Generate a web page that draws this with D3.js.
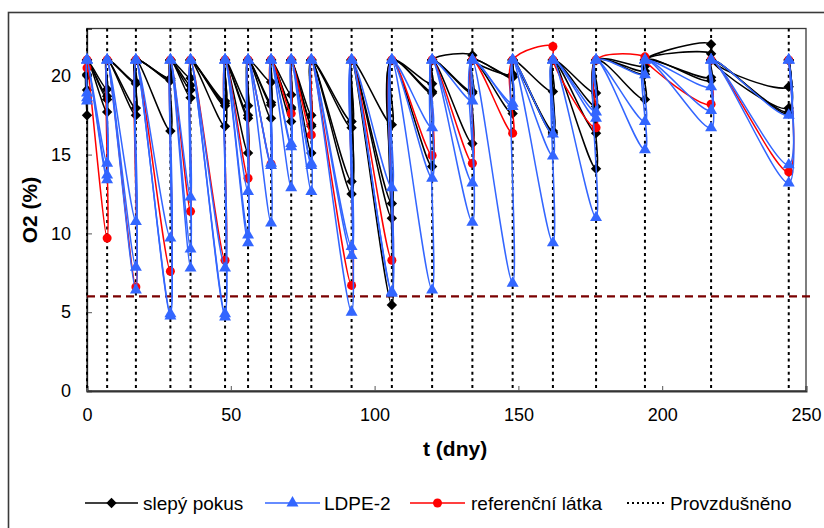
<!DOCTYPE html>
<html><head><meta charset="utf-8">
<script src="https://cdn.jsdelivr.net/npm/d3@7"></script>
<style>body{margin:0;background:#fff} svg{display:block} text{font-family:"Liberation Sans",Arial,sans-serif;fill:#000}</style>
</head><body><svg id="c" width="824" height="528"></svg>
<script>
// aeration times (days) - "Provzdušněno"
const aerationDays = [0, 7, 17, 29, 36, 48, 56, 64, 71, 78, 92, 106, 120, 134, 148, 162, 177, 194, 217, 244];
// O2 right after aeration (%)
const airO2 = 21.0;
// O2 (%) measured just before each aeration
const blank1 = [20.1, 19.15, 19.6, 19.85, 19.85, 18.4, 18.1, 19.6, 18.8, 17.5, 17.1, 16.9, 19.5, 21.3, 20.1, 19.0, 18.9, 20.6, 22.0, 19.3];
const blank2 = [20.0, 18.7, 19.5, 19.8, 19.4, 18.25, 17.5, 18.3, 18.0, 16.9, 16.7, 11.9, 19.0, 19.0, 19.95, 16.5, 18.05, 20.3, 21.4, 17.95];
const blank3 = [19.1, 18.5, 17.95, 19.7, 19.1, 18.1, 17.3, 18.15, 17.9, 16.8, 13.3, 10.96, 18.9, 18.9, 19.9, 16.4, 16.36, 20.1, 19.9, 17.7];
const blank4 = [17.5, 17.7, 17.5, 16.5, 18.6, 16.8, 15.1, 17.3, 17.1, 15.1, 12.5, 5.46, 14.24, 15.7, 17.6, 16.3, 14.1, 18.5, 19.7, 17.6];
const ldpe1 = [18.9, 14.45, 10.75, 9.7, 12.3, 7.8, 12.65, 14.45, 15.7, 14.45, 9.16, 12.9, 16.7, 18.4, 18.25, 16.3, 17.7, 20.06, 19.3, 17.5];
const ldpe2 = [18.6, 13.7, 7.85, 4.9, 9.0, 4.9, 9.9, 14.3, 15.5, 14.3, 8.6, 6.3, 13.5, 13.2, 18.05, 14.9, 17.3, 17.1, 17.8, 14.35];
const ldpe3 = [18.4, 13.4, 6.4, 4.75, 7.8, 4.7, 9.4, 10.65, 12.9, 12.65, 5.0, 6.2, 6.4, 10.7, 6.84, 9.4, 11.0, 15.3, 16.7, 13.2];
const reference = [20.5, 9.7, 6.6, 7.6, 11.4, 8.3, 13.5, 14.4, 17.6, 16.25, 6.7, 8.3, 14.94, 14.45, 16.36, 21.86, 16.7, 21.2, 18.2, 13.9];
const limitO2 = 6;
const xTicks = [0, 50, 100, 150, 200, 250];
const yTicks = [0, 5, 10, 15, 20];
const legendLabels = ["slepý pokus", "LDPE-2", "referenční látka", "Provzdušněno"];

const svg = d3.select("#c");
const x = d3.scaleLinear().domain([0, 250]).range([87, 806]);
const y = d3.scaleLinear().domain([0, 23]).range([391, 28.5]);

// outer chart frame
svg.append("rect").attr("x", 8.5).attr("y", 12.5).attr("width", 900).attr("height", 600)
  .attr("fill", "none").attr("stroke", "#3a3a3a").attr("stroke-width", 1.6);

// plot area frame
svg.append("rect").attr("x", x(0)).attr("y", y(23)).attr("width", x(250) - x(0)).attr("height", y(0) - y(23))
  .attr("fill", "none").attr("stroke", "#3a3a3a").attr("stroke-width", 1.3);

// axes
const yAxis = d3.axisLeft(y).tickValues(yTicks).tickSize(-5).tickPadding(16);
const gy = svg.append("g").attr("transform", `translate(${x(0)},0)`).call(yAxis);
gy.select(".domain").attr("stroke", "#222").attr("stroke-width", 1.3);
gy.selectAll(".tick line").attr("stroke", "#555");
gy.selectAll("text").style("font-size", "18px").attr("fill", "#000");

const xAxis = d3.axisBottom(x).tickValues(xTicks).tickSize(-5).tickPadding(17);
const gx = svg.append("g").attr("transform", `translate(0,${y(0)})`).call(xAxis);
gx.select(".domain").attr("stroke", "#333").attr("stroke-width", 2);
gx.selectAll(".tick line").attr("stroke", "#555");
gx.selectAll("text").style("font-size", "18px").attr("fill", "#000");

// aeration dotted lines
svg.append("g").selectAll("line").data(aerationDays).join("line")
  .attr("x1", d => x(d)).attr("x2", d => x(d)).attr("y1", y(23)).attr("y2", y(0))
  .attr("stroke", "#000").attr("stroke-width", 2).attr("stroke-dasharray", "3,3.6");

// limit dashed line
svg.append("line").attr("x1", x(0)).attr("x2", x(252)).attr("y1", y(limitO2)).attr("y2", y(limitO2))
  .attr("stroke", "#7a0000").attr("stroke-width", 2.2).attr("stroke-dasharray", "8,5");

function pts(vals) {
  const p = [];
  aerationDays.forEach((d, i) => { p.push([d, vals[i]]); p.push([d, airO2]); });
  return p;
}
const line = d3.line().x(d => x(d[0])).y(d => y(d[1])).curve(d3.curveCatmullRom.alpha(0.5));

const diamond = d3.symbol().type(d3.symbolSquare).size(54);
const triangle = d3.symbol().type(d3.symbolTriangle).size(62);
const circle = d3.symbol().type(d3.symbolCircle).size(64);

const groups = [
  {data: [blank1, blank2, blank3, blank4], color: "#000000", sym: diamond, rot: 45},
  {data: [reference], color: "#ff0000", sym: circle, rot: 0},
  {data: [ldpe1, ldpe2, ldpe3], color: "#3366ff", sym: triangle, rot: 0}
];
groups.forEach(g => {
  const G = svg.append("g");
  g.data.forEach(vals => {
    const p = pts(vals);
    G.append("path").attr("d", line(p)).attr("fill", "none").attr("stroke", g.color).attr("stroke-width", 1.5);
    G.selectAll(null).data(p).join("path").attr("d", g.sym)
      .attr("transform", d => `translate(${x(d[0])},${y(d[1])}) rotate(${g.rot})`).attr("fill", g.color);
  });
});

// axis titles
svg.append("text").attr("x", x(128)).attr("y", 456).attr("text-anchor", "middle")
  .style("font-size", "21px").style("font-weight", "bold").text("t (dny)");
svg.append("text").attr("transform", "translate(37,210) rotate(-90)").attr("text-anchor", "middle")
  .style("font-size", "21px").style("font-weight", "bold").text("O2 (%)");

// legend
const ly = 503;
const leg = svg.append("g");
const items = [
  {x1: 85, x2: 138, color: "#000", sym: diamond, rot: 45, label: legendLabels[0], tx: 143},
  {x1: 265, x2: 320, color: "#3366ff", sym: triangle, rot: 0, label: legendLabels[1], tx: 324},
  {x1: 410, x2: 465, color: "#ff0000", sym: circle, rot: 0, label: legendLabels[2], tx: 471}
];
items.forEach(it => {
  leg.append("line").attr("x1", it.x1).attr("x2", it.x2).attr("y1", ly).attr("y2", ly).attr("stroke", it.color).attr("stroke-width", 1.5);
  leg.append("path").attr("d", it.sym).attr("transform", `translate(${(it.x1 + it.x2) / 2},${ly}) rotate(${it.rot})`).attr("fill", it.color);
  leg.append("text").attr("x", it.tx).attr("y", ly + 6.5).style("font-size", "19px").text(it.label);
});
leg.append("line").attr("x1", 627).attr("x2", 665).attr("y1", ly).attr("y2", ly).attr("stroke", "#000").attr("stroke-width", 2).attr("stroke-dasharray", "2,3");
leg.append("text").attr("x", 670).attr("y", ly + 6.5).style("font-size", "19px").text(legendLabels[3]);
</script></body></html>
